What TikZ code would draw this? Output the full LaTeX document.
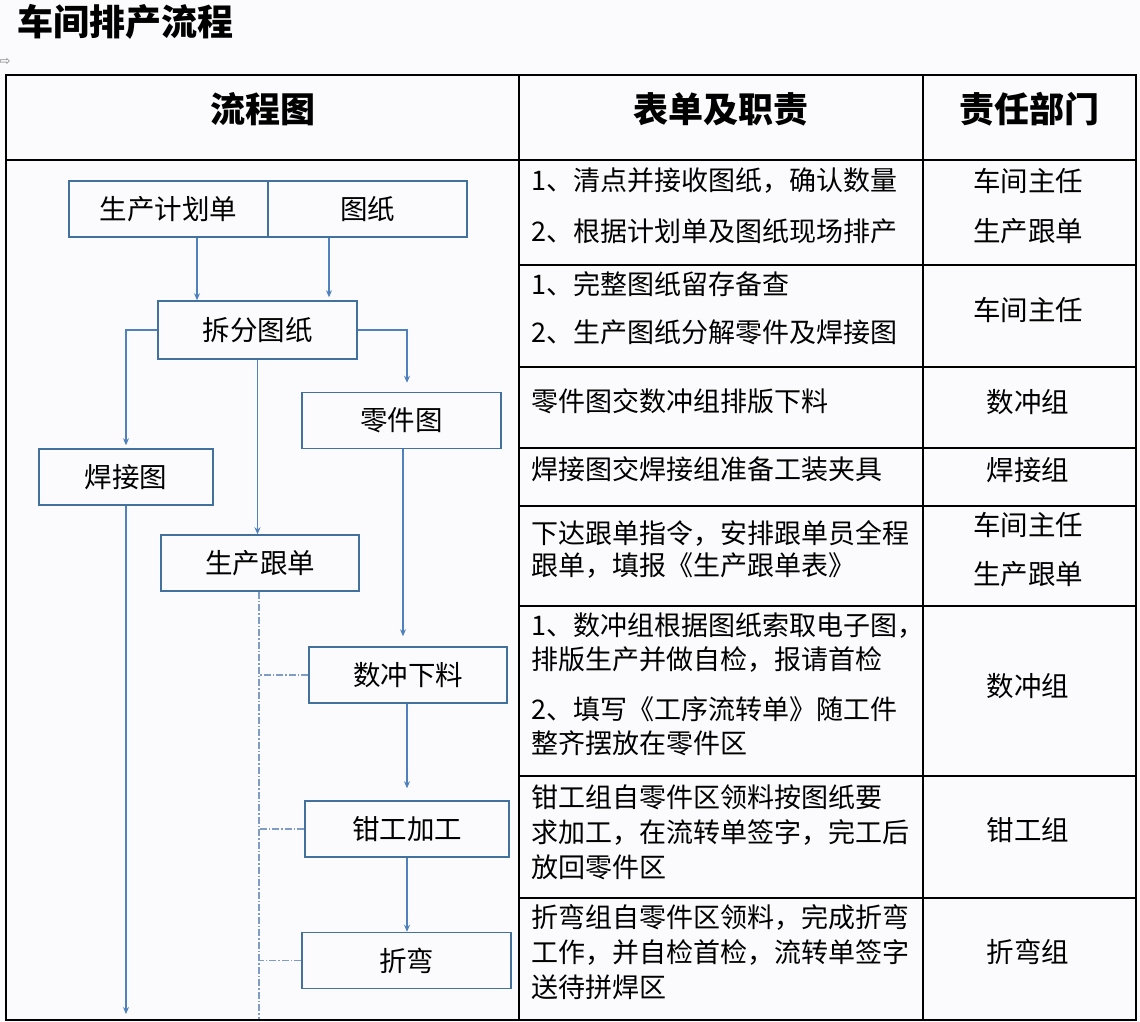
\documentclass[tikz,border=0pt]{standalone}
\usepackage{fontspec}
\setmainfont{Noto Sans CJK SC}
\newfontfamily\symfont{DejaVu Sans}
\usetikzlibrary{arrows.meta}
\definecolor{boxc}{HTML}{41719C}
\definecolor{arrc}{HTML}{4F81BD}
\definecolor{dotc}{HTML}{7F9CC4}
\definecolor{bgc}{HTML}{FBFBFD}
\begin{document}
\begin{tikzpicture}[x=1pt,y=-1pt,
  fbox/.style={draw=boxc, line width=1.5pt, inner sep=0pt, minimum height=56pt, font=\fontsize{27.5}{27.5}\selectfont},
  arr/.style={draw=arrc, line width=1.3pt, -{Stealth[length=7pt,width=6pt]}},
  dd/.style={draw=dotc, line width=1.1pt, dash pattern=on 7pt off 2pt on 1.5pt off 2pt},
  tline/.style={draw=black, line width=2pt},
  rt/.style={anchor=west, inner sep=0pt, font=\fontsize{27}{27}\selectfont},
  dept/.style={inner sep=0pt, font=\fontsize{27.5}{27.5}\selectfont},
  hd/.style={inner sep=0pt, font=\fontsize{35}{35}\selectfont\bfseries}
]
\fill[bgc] (0,0) rectangle (1140,1022);
\useasboundingbox (0,0) rectangle (1140,1022);

% title
\node[anchor=west, inner sep=0pt, font=\fontsize{36}{36}\selectfont\bfseries] (title) at (17,22) {车间排产流程};
\node[inner sep=0pt, text=gray, font=\symfont\fontsize{13}{13}\selectfont] (handle) at (5,62) {⇨};

% table
\draw[tline] (6,75) rectangle (1136,1020);
\draw[tline] (6,160) -- (1136,160);
\draw[tline] (519,75) -- (519,1020);
\draw[tline] (923,75) -- (923,1020);
\foreach \yy in {265,367,448,506,606,776,898}
  \draw[tline] (519,\yy) -- (1136,\yy);

% headers
\node[hd] (h1) at (263,109) {流程图};
\node[hd] (h2) at (721,109) {表单及职责};
\node[hd] (h3) at (1029,109) {责任部门};

% flow boxes
\node[fbox, minimum width=199pt] (plan) at (168.5,209) {生产计划单};
\node[fbox, minimum width=199pt] (drw) at (367.5,209) {图纸};
\node[fbox, minimum width=199pt, minimum height=58pt] (split) at (257.5,330) {拆分图纸};
\node[fbox, minimum width=199pt] (part) at (401.5,420.5) {零件图};
\node[fbox, minimum width=174pt] (weld) at (126,477) {焊接图};
\node[fbox, minimum width=198pt] (track) at (260,563) {生产跟单};
\node[fbox, minimum width=198pt] (punch) at (408,675) {数冲下料};
\node[fbox, minimum width=204pt] (fit) at (407,829) {钳工加工};
\node[fbox, minimum width=209pt] (bend) at (406.5,960.5) {折弯};

\coordinate (weldend) at (126,1014);
\coordinate (tbot) at (0,1019);

% arrows
\draw[arr] ([xshift=28.5pt]plan.south) -- ([xshift=-60.5pt]split.north);
\draw[arr, shorten >=3pt] ([xshift=-38.5pt]drw.south) -- ([xshift=71.5pt]split.north);
\draw[arr, shorten >=3pt] (split.west) -| (weld.north);
\draw[arr, shorten >=9pt] (split.east) -| ([xshift=5.5pt]part.north);
\draw[arr] (split.south) -- (split.south |- track.north);
\draw[arr, shorten >=10pt] ([xshift=1.5pt]part.south) -- ([xshift=1.5pt]part.south |- punch.north);
\draw[arr, shorten >=12pt] ([xshift=-1pt]punch.south) -- ([xshift=-1pt]punch.south |- fit.north);
\draw[arr] (fit.south) -- (fit.south |- bend.north);
\draw[arr] (weld.south) -- (weldend);

% dash-dot
\draw[dd] ([xshift=-1pt]track.south) -- ([xshift=-1pt]track.south |- tbot);
\draw[dd] (punch.west) -- (punch.west -| track.south);
\draw[dd] (fit.west) -- (fit.west -| track.south);
\draw[dd] (bend.west) -- (bend.west -| track.south);

% right column texts
\node[rt] (r1a) at (531,181) {1、清点并接收图纸，确认数量};
\node[rt] (r1b) at (531,231) {2、根据计划单及图纸现场排产};
\node[rt] (r2a) at (531,284) {1、完整图纸留存备查};
\node[rt] (r2b) at (531,332) {2、生产图纸分解零件及焊接图};
\node[rt] (r3) at (531,401) {零件图交数冲组排版下料};
\node[rt] (r4) at (531,469) {焊接图交焊接组准备工装夹具};
\node[rt] (r5a) at (531,533) {下达跟单指令，安排跟单员全程};
\node[rt] (r5b) at (531,566) {跟单，填报《生产跟单表》};
\node[rt] (r6a) at (531,626) {1、数冲组根据图纸索取电子图，};
\node[rt] (r6b) at (531,660) {排版生产并做自检，报请首检};
\node[rt] (r6c) at (531,709) {2、填写《工序流转单》随工件};
\node[rt] (r6d) at (531,743) {整齐摆放在零件区};
\node[rt] (r7a) at (531,797) {钳工组自零件区领料按图纸要};
\node[rt] (r7b) at (531,832) {求加工，在流转单签字，完工后};
\node[rt] (r7c) at (531,867) {放回零件区};
\node[rt] (r8a) at (531,917) {折弯组自零件区领料，完成折弯};
\node[rt] (r8b) at (531,952) {工作，并自检首检，流转单签字};
\node[rt] (r8c) at (531,987) {送待拼焊区};

% departments
\node[dept] (d1a) at (1028,181) {车间主任};
\node[dept] (d1b) at (1028,231) {生产跟单};
\node[dept] (d2) at (1028,310) {车间主任};
\node[dept] (d3) at (1028,402) {数冲组};
\node[dept] (d4) at (1028,470) {焊接组};
\node[dept] (d5a) at (1028,525) {车间主任};
\node[dept] (d5b) at (1028,574) {生产跟单};
\node[dept] (d6) at (1028,686) {数冲组};
\node[dept] (d7) at (1028,830) {钳工组};
\node[dept] (d8) at (1028,952) {折弯组};
\end{tikzpicture}
\end{document}
